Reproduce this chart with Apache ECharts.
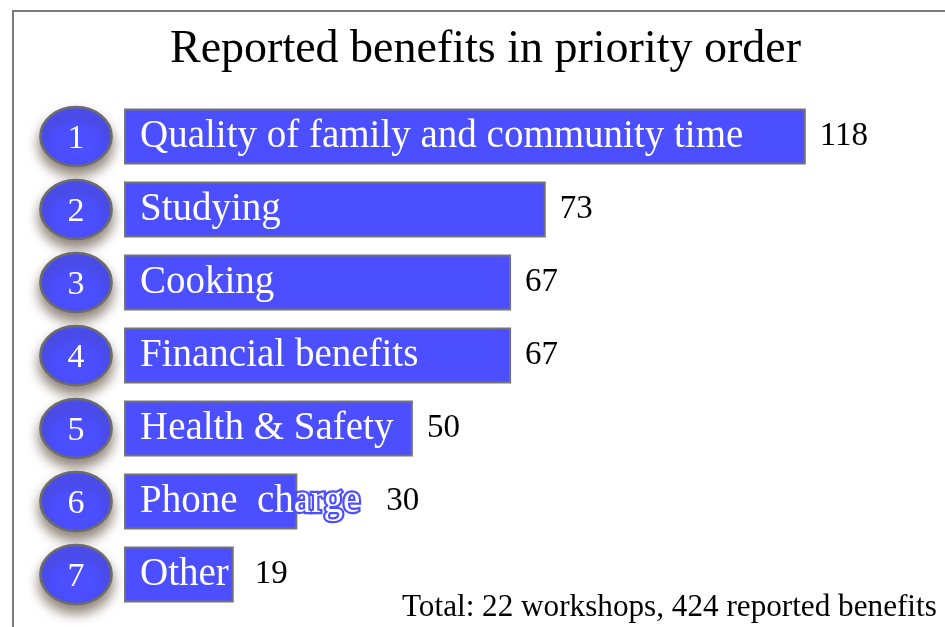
<!DOCTYPE html>
<html>
<head>
<meta charset="utf-8">
<script src="https://cdn.jsdelivr.net/npm/echarts@6/dist/echarts.min.js"></script>
<style>
  html, body { margin: 0; padding: 0; background: #fff; }
  #chart { width: 945px; height: 627px; }
</style>
</head>
<body>
<div id="chart"></div>
<script>
// Benefits, in priority order (rank 1 on top)
const ranks = ['1', '2', '3', '4', '5', '6', '7'];
const categories = [
  'Quality of family and community time',
  'Studying',
  'Cooking',
  'Financial benefits',
  'Health & Safety',
  'Phone  charge',
  'Other'
];
const counts = [118, 73, 67, 67, 50, 30, 19];
const titleText = 'Reported benefits in priority order';
const footnoteText = 'Total: 22 workshops, 424 reported benefits';

const FONT = '"Liberation Serif", "Times New Roman", serif';
const BLUE = '#4b4fff';
const EDGE = '#747474';
const CAT_SIZE = 39;
const CAT_PAD = 16;
const VAL_GAP = 14;

const gridLeft = 124, gridWidth = 780, gridTop = 100, gridHeight = 511;
const xMax = 135;

// width of a category label, so the count can sit clear of text that runs past a short bar
const measureCtx = document.createElement('canvas').getContext('2d');
measureCtx.font = CAT_SIZE + 'px ' + FONT;
function textWidth(s) { return measureCtx.measureText(s).width; }

const pxPerUnit = gridWidth / xMax;
const overflow = counts.map((v, i) => Math.max(0, CAT_PAD + textWidth(categories[i]) + 12 - v * pxPerUnit));

// names that run past their bar keep a thicker blue outline so they stay legible on white
const barItems = counts.map((v, i) => overflow[i] > 0
  ? { value: v, label: { textBorderWidth: 4.5 } }
  : v);
const valueItems = counts.map((v, i) => ({ value: v, label: { offset: [overflow[i], 0] } }));

const chart = echarts.init(document.getElementById('chart'), null, { renderer: 'canvas' });

chart.setOption({
  animation: false,
  backgroundColor: '#ffffff',
  title: [
    {
      text: titleText,
      left: 165, top: 22,
      textStyle: { fontFamily: FONT, fontSize: 46, fontWeight: 'normal', color: '#000' }
    },
    {
      text: footnoteText,
      left: 397, top: 587,
      textStyle: { fontFamily: FONT, fontSize: 31.2, fontWeight: 'normal', color: '#000' }
    }
  ],
  graphic: [
    {
      type: 'rect', silent: true, z: -1,
      shape: { x: 13, y: 11, width: 1000, height: 700 },
      style: { fill: 'none', stroke: '#7a7a7a', lineWidth: 2 }
    }
  ],
  grid: [
    { left: gridLeft, width: gridWidth, top: gridTop, height: gridHeight },
    { left: 40, width: 72, top: gridTop, height: gridHeight }
  ],
  xAxis: [
    { type: 'value', gridIndex: 0, min: 0, max: xMax, show: false, splitLine: { show: false } },
    { type: 'value', gridIndex: 1, min: -1, max: 1, show: false, splitLine: { show: false } }
  ],
  yAxis: [
    { type: 'category', gridIndex: 0, data: categories, inverse: true, show: false },
    { type: 'category', gridIndex: 1, data: ranks, inverse: true, show: false }
  ],
  series: [
    {
      // bars with the benefit name written inside
      type: 'bar',
      xAxisIndex: 0, yAxisIndex: 0,
      data: barItems,
      barWidth: 56,
      itemStyle: { color: BLUE, borderColor: EDGE, borderWidth: 2 },
      label: {
        show: true,
        position: 'insideLeft',
        distance: CAT_PAD,
        formatter: p => categories[p.dataIndex],
        color: '#ffffff',
        fontFamily: FONT,
        fontSize: CAT_SIZE,
        textBorderColor: BLUE,
        textBorderWidth: 3
      },
      z: 2
    },
    {
      // counts to the right of each bar
      type: 'bar',
      xAxisIndex: 0, yAxisIndex: 0,
      data: valueItems,
      barWidth: 56,
      barGap: '-100%',
      itemStyle: { color: 'rgba(0,0,0,0)' },
      label: {
        show: true,
        position: 'right',
        distance: VAL_GAP,
        color: '#000',
        fontFamily: FONT,
        fontSize: 33
      },
      silent: true,
      z: 3
    },
    {
      // rank badges
      type: 'scatter',
      xAxisIndex: 1, yAxisIndex: 1,
      data: ranks.map((r, i) => [0, i]),
      symbol: 'circle',
      symbolSize: [71, 59],
      itemStyle: {
        color: BLUE,
        opacity: 1,
        borderColor: '#6c6c6c',
        borderWidth: 2.5,
        shadowColor: 'rgba(70, 50, 30, 0.6)',
        shadowBlur: 12,
        shadowOffsetY: 8
      },
      label: {
        show: true,
        position: 'inside',
        offset: [0, 3],
        formatter: p => ranks[p.dataIndex],
        color: '#ffffff',
        fontFamily: FONT,
        fontSize: 34
      },
      z: 4
    }
  ]
});
</script>
</body>
</html>
